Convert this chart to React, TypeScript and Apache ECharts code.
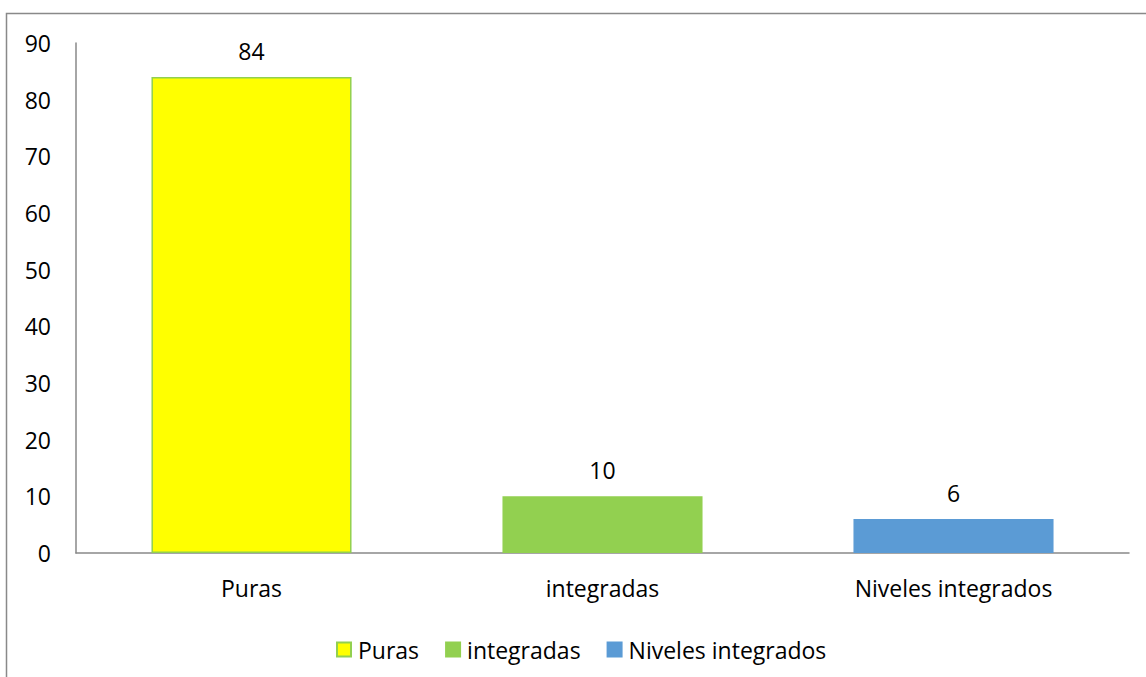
import React, { useEffect, useRef } from "react";
import * as echarts from "echarts";

const categories = ["Puras", "integradas", "Niveles integrados"];
const seriesNames = ["Puras", "integradas", "Niveles integrados"];
const values = [84, 10, 6];
const colors = ["#FFFF00", "#92D050", "#5B9BD5"];
const borderColors = ["#92D050", "#92D050", "#5B9BD5"];

export default function App() {
  const ref = useRef<HTMLDivElement>(null);
  useEffect(() => {
    const chart = echarts.init(ref.current!, undefined, { renderer: "svg" });
    const font = "'Open Sans', 'Noto Sans', sans-serif";
    const fs = 23;
    chart.setOption({
      animation: false,
      backgroundColor: "#fff",
      textStyle: { fontFamily: font },
      graphic: [
        {
          type: "rect",
          shape: { x: 6.5, y: 13.5, width: 1200, height: 700 },
          style: { fill: "none", stroke: "#898989", lineWidth: 1.5 },
          silent: true,
        },
      ],
      grid: { left: 76, right: 17, top: 43, bottom: 124, containLabel: false },
      legend: {
        left: 331,
        top: 633,
        itemWidth: 14,
        itemHeight: 14,
        itemGap: 26,
        icon: "rect",
        textStyle: { fontSize: fs, color: "#000", fontFamily: font, padding: [0, 0, 0, 2] },
        data: seriesNames,
      },
      xAxis: {
        type: "category",
        data: categories,
        axisLine: { lineStyle: { color: "#898989", width: 1.5 } },
        axisTick: { show: false },
        axisLabel: { fontSize: fs, color: "#000", margin: 23, fontFamily: font },
      },
      yAxis: {
        type: "value",
        min: 0,
        max: 90,
        interval: 10,
        axisLine: { show: true, lineStyle: { color: "#898989", width: 1.5 } },
        axisTick: { show: false },
        splitLine: { show: false },
        axisLabel: { fontSize: fs, color: "#000", margin: 25, fontFamily: font },
      },
      series: seriesNames.map((name, i) => ({
        name,
        type: "bar",
        stack: "all",
        barWidth: "57%",
        data: categories.map((_, j) => (j === i ? values[i] : "-")),
        itemStyle: { color: colors[i], borderColor: borderColors[i], borderWidth: 1.5 },
        label: {
          show: true,
          position: "top",
          distance: 15,
          fontSize: fs,
          color: "#000",
          fontFamily: font,
        },
      })),
    });
    return () => chart.dispose();
  }, []);
  return (
    <div
      ref={ref}
      style={{ position: "fixed", left: 0, top: 0, width: 1146, height: 677 }}
    />
  );
}
